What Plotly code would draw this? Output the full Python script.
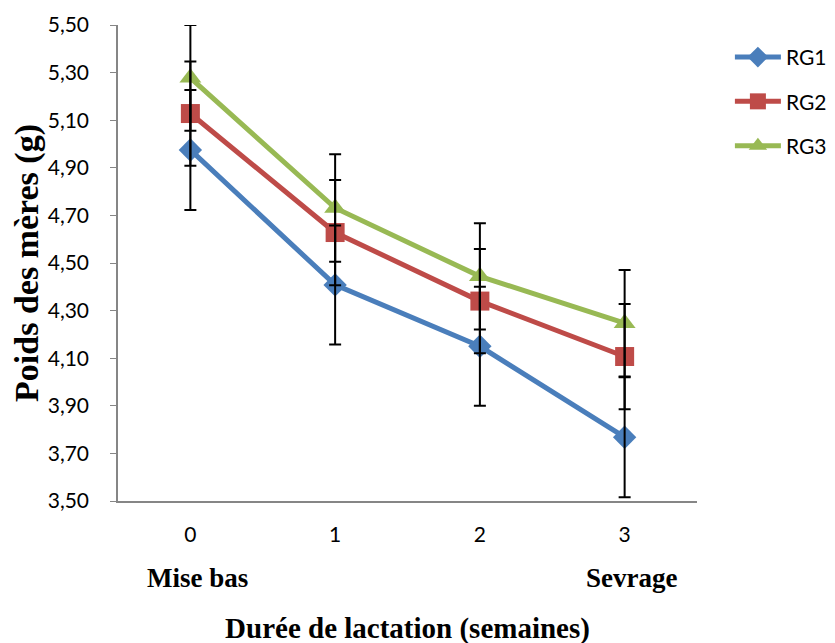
import plotly.graph_objects as go

# ---- data ----
weeks = [0, 1, 2, 3]
week_labels = ["0", "1", "2", "3"]
stage_labels = {0: "Mise bas", 3: "Sevrage"}

rg1 = [4.975, 4.408, 4.150, 3.768]
rg1_err = [0.252, 0.250, 0.250, 0.252]
rg2 = [5.128, 4.628, 4.340, 4.107]
rg2_err = [0.219, 0.221, 0.219, 0.221]
rg3 = [5.278, 4.731, 4.444, 4.247]
rg3_err = [0.222, 0.226, 0.223, 0.224]

series = [
    ("RG1", rg1, rg1_err, "#4A7EBB", "diamond", 18),
    ("RG2", rg2, rg2_err, "#BE4B48", "square", 19),
    ("RG3", rg3, rg3_err, "#98B954", "triangle-up", 19),
]

y_ticks = [3.5 + 0.2 * i for i in range(11)]
y_ticktext = [f"{v:.2f}".replace(".", ",") for v in y_ticks]

fig = go.Figure()
for name, ys, errs, color, symbol, size in series:
    fig.add_trace(go.Scatter(
        x=weeks, y=ys, name=name, mode="lines+markers",
        line=dict(color=color, width=5),
        marker=dict(symbol=symbol, size=size, color=color),
        legendgroup=name,
    ))
# error bars drawn above all series
for name, ys, errs, color, symbol, size in series:
    fig.add_trace(go.Scatter(
        x=weeks, y=ys, mode="markers", showlegend=False, hoverinfo="skip",
        marker=dict(size=1, opacity=0),
        error_y=dict(type="data", array=errs, visible=True,
                     color="black", thickness=2, width=6),
    ))

for xv, txt in stage_labels.items():
    fig.add_annotation(
        x=xv + 0.05, y=-0.162, xref="x", yref="paper", text=f"<b>{txt}</b>",
        showarrow=False, yanchor="middle",
        font=dict(family="Liberation Serif", size=27, color="black"),
    )

fig.update_layout(
    width=835, height=643,
    margin=dict(l=110, r=145, t=17, b=150),
    plot_bgcolor="white", paper_bgcolor="white",
    font=dict(family="Lato", size=20, color="black"),
    showlegend=True,
    legend=dict(x=1.055, y=0.975, xanchor="left", yanchor="top",
                font=dict(family="Lato", size=21, color="black"),
                itemwidth=46,
                tracegroupgap=14, bgcolor="rgba(0,0,0,0)"),
    xaxis=dict(
        range=[-0.5, 3.5], tickvals=weeks, ticktext=week_labels,
        showline=True, linecolor="#868686", linewidth=1.5,
        ticks="", showgrid=False, zeroline=False,
        ticklabelstandoff=14,
        tickfont=dict(family="Lato", size=21),
        title=dict(text="<b>Durée de lactation (semaines)</b>",
                   font=dict(family="Liberation Serif", size=29),
                   standoff=73),
        automargin=False,
    ),
    yaxis=dict(
        range=[3.5, 5.5], tickvals=y_ticks, ticktext=y_ticktext,
        showline=True, linecolor="#868686", linewidth=1.5,
        ticks="outside", ticklen=6, tickcolor="#868686",
        showgrid=False, zeroline=False,
        ticklabelstandoff=17,
        tickfont=dict(family="Lato", size=21),
        title=dict(text="<b>Poids des mères (g)</b>",
                   font=dict(family="Liberation Serif", size=34),
                   standoff=1),
        automargin=False,
    ),
)

fig.write_html("out.html")
